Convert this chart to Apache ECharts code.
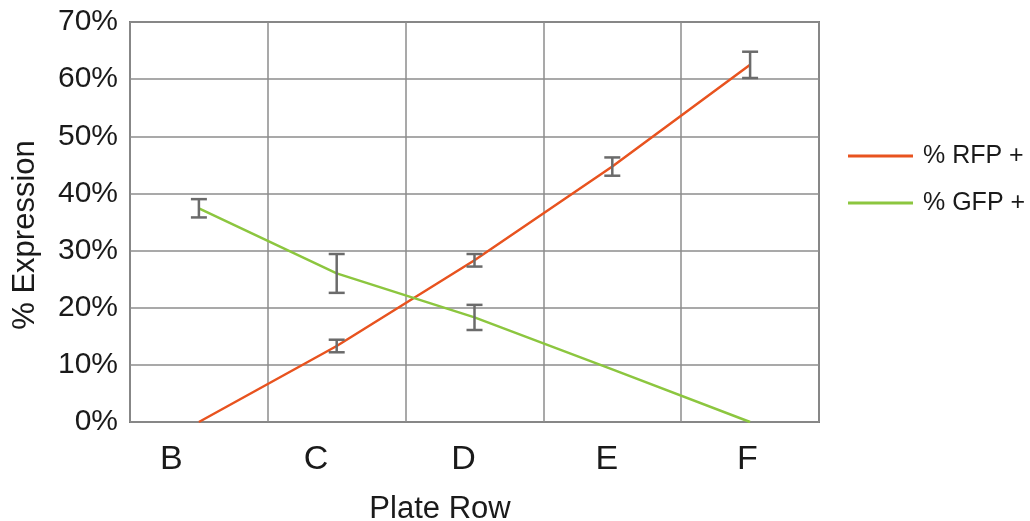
<!DOCTYPE html>
<html>
<head>
<meta charset="utf-8">
<script src="https://cdn.jsdelivr.net/npm/echarts@6/dist/echarts.min.js"></script>
<style>
  html, body { margin: 0; padding: 0; background: #fff; }
  #chart { width: 1030px; height: 521px; }
</style>
</head>
<body>
<div id="chart"></div>
<script>
const rows = ["B", "C", "D", "E", "F"];
const rfp = [0, 13.3, 28.3, 44.7, 62.5];
const gfp = [37.4, 26.0, 18.3, 9.2, 0];
// half-length of each error bar, null where none is drawn
const rfpErr = [null, 1.1, 1.1, 1.6, 2.3];
const gfpErr = [1.6, 3.4, 2.2, null, null];
const yTicks = [0, 10, 20, 30, 40, 50, 60, 70];

// where the row letters sit along the bottom (in grid-column units)
const labelSlots = [0.3, 1.35, 2.42, 3.46, 4.48];

const font = "Liberation Sans, Arial, sans-serif";
const ink = "#1a1a1a";

function errData(values, errs) {
  const out = [];
  values.forEach((v, i) => {
    if (errs[i] != null) out.push([i, v, errs[i]]);
  });
  return out;
}

function renderErr(params, api) {
  const x = api.value(0);
  const v = api.value(1);
  const e = api.value(2);
  const top = api.coord([x, v + e]);
  const bot = api.coord([x, v - e]);
  const half = 8;
  const style = { stroke: "#6b6b6b", lineWidth: 2.5 };
  return {
    type: "group",
    children: [
      { type: "line", shape: { x1: top[0], y1: top[1], x2: bot[0], y2: bot[1] }, style },
      { type: "line", shape: { x1: top[0] - half, y1: top[1], x2: top[0] + half, y2: top[1] }, style },
      { type: "line", shape: { x1: bot[0] - half, y1: bot[1], x2: bot[0] + half, y2: bot[1] }, style },
    ],
  };
}

const chart = echarts.init(document.getElementById("chart"));

chart.setOption({
  animation: false,
  textStyle: { fontFamily: font },
  grid: {
    left: 130, right: 211, top: 22, bottom: 99,
    outerBoundsMode: "none",
    containLabel: false,
    show: true, borderColor: "#7a7a7a", borderWidth: 2, backgroundColor: "transparent",
  },
  legend: {
    orient: "vertical",
    left: 848, top: 143,
    padding: 0,
    icon: "rect",
    itemWidth: 65, itemHeight: 3,
    itemGap: 21,
    textStyle: { fontSize: 25, color: ink, fontFamily: font, lineHeight: 26, padding: [0, 0, 0, 5] },
    data: ["% RFP +", "% GFP +"],
  },
  xAxis: [
    {
      type: "category",
      data: rows,
      boundaryGap: true,
      axisLine: { show: false },
      axisTick: { show: false },
      axisLabel: { show: false },
      splitLine: { show: true, interval: 0, lineStyle: { color: "#8c8c8c", width: 1.5 } },
    },
    {
      type: "value",
      min: 0, max: 5,
      position: "bottom",
      axisLine: { show: false },
      axisTick: { show: false },
      splitLine: { show: false },
      axisLabel: {
        customValues: labelSlots,
        formatter: (v) => {
          const i = labelSlots.findIndex((s) => Math.abs(s - v) < 1e-6);
          return i >= 0 ? rows[i] : "";
        },
        fontSize: 34, color: ink, margin: 21, fontFamily: font,
      },
      name: "Plate Row",
      nameLocation: "middle",
      nameGap: 72,
      nameTextStyle: { fontSize: 31, color: ink, fontFamily: font, padding: [0, 69, 0, 0] },
    },
  ],
  yAxis: {
    type: "value",
    min: yTicks[0], max: yTicks[yTicks.length - 1], interval: 10,
    axisLine: { show: false },
    axisTick: { show: false },
    axisLabel: { formatter: "{value}%", fontSize: 30, color: ink, margin: 12, fontFamily: font },
    splitLine: { show: true, lineStyle: { color: "#8c8c8c", width: 1.5 } },
    name: "% Expression",
    nameLocation: "middle",
    nameGap: 89,
    nameTextStyle: { fontSize: 31, color: ink, fontFamily: font, padding: [0, 26, 0, 0] },
  },
  series: [
    {
      name: "% RFP +",
      type: "line",
      data: rfp,
      symbol: "none",
      lineStyle: { color: "#e8531f", width: 2.5 },
      itemStyle: { color: "#e8531f" },
      z: 3,
    },
    {
      name: "% GFP +",
      type: "line",
      data: gfp,
      symbol: "none",
      lineStyle: { color: "#8cc63f", width: 2.5 },
      itemStyle: { color: "#8cc63f" },
      z: 3,
    },
    {
      type: "custom",
      renderItem: renderErr,
      data: errData(rfp, rfpErr),
      encode: { x: 0, y: 1 },
      z: 4,
    },
    {
      type: "custom",
      renderItem: renderErr,
      data: errData(gfp, gfpErr),
      encode: { x: 0, y: 1 },
      z: 4,
    },
  ],
});
</script>
</body>
</html>
